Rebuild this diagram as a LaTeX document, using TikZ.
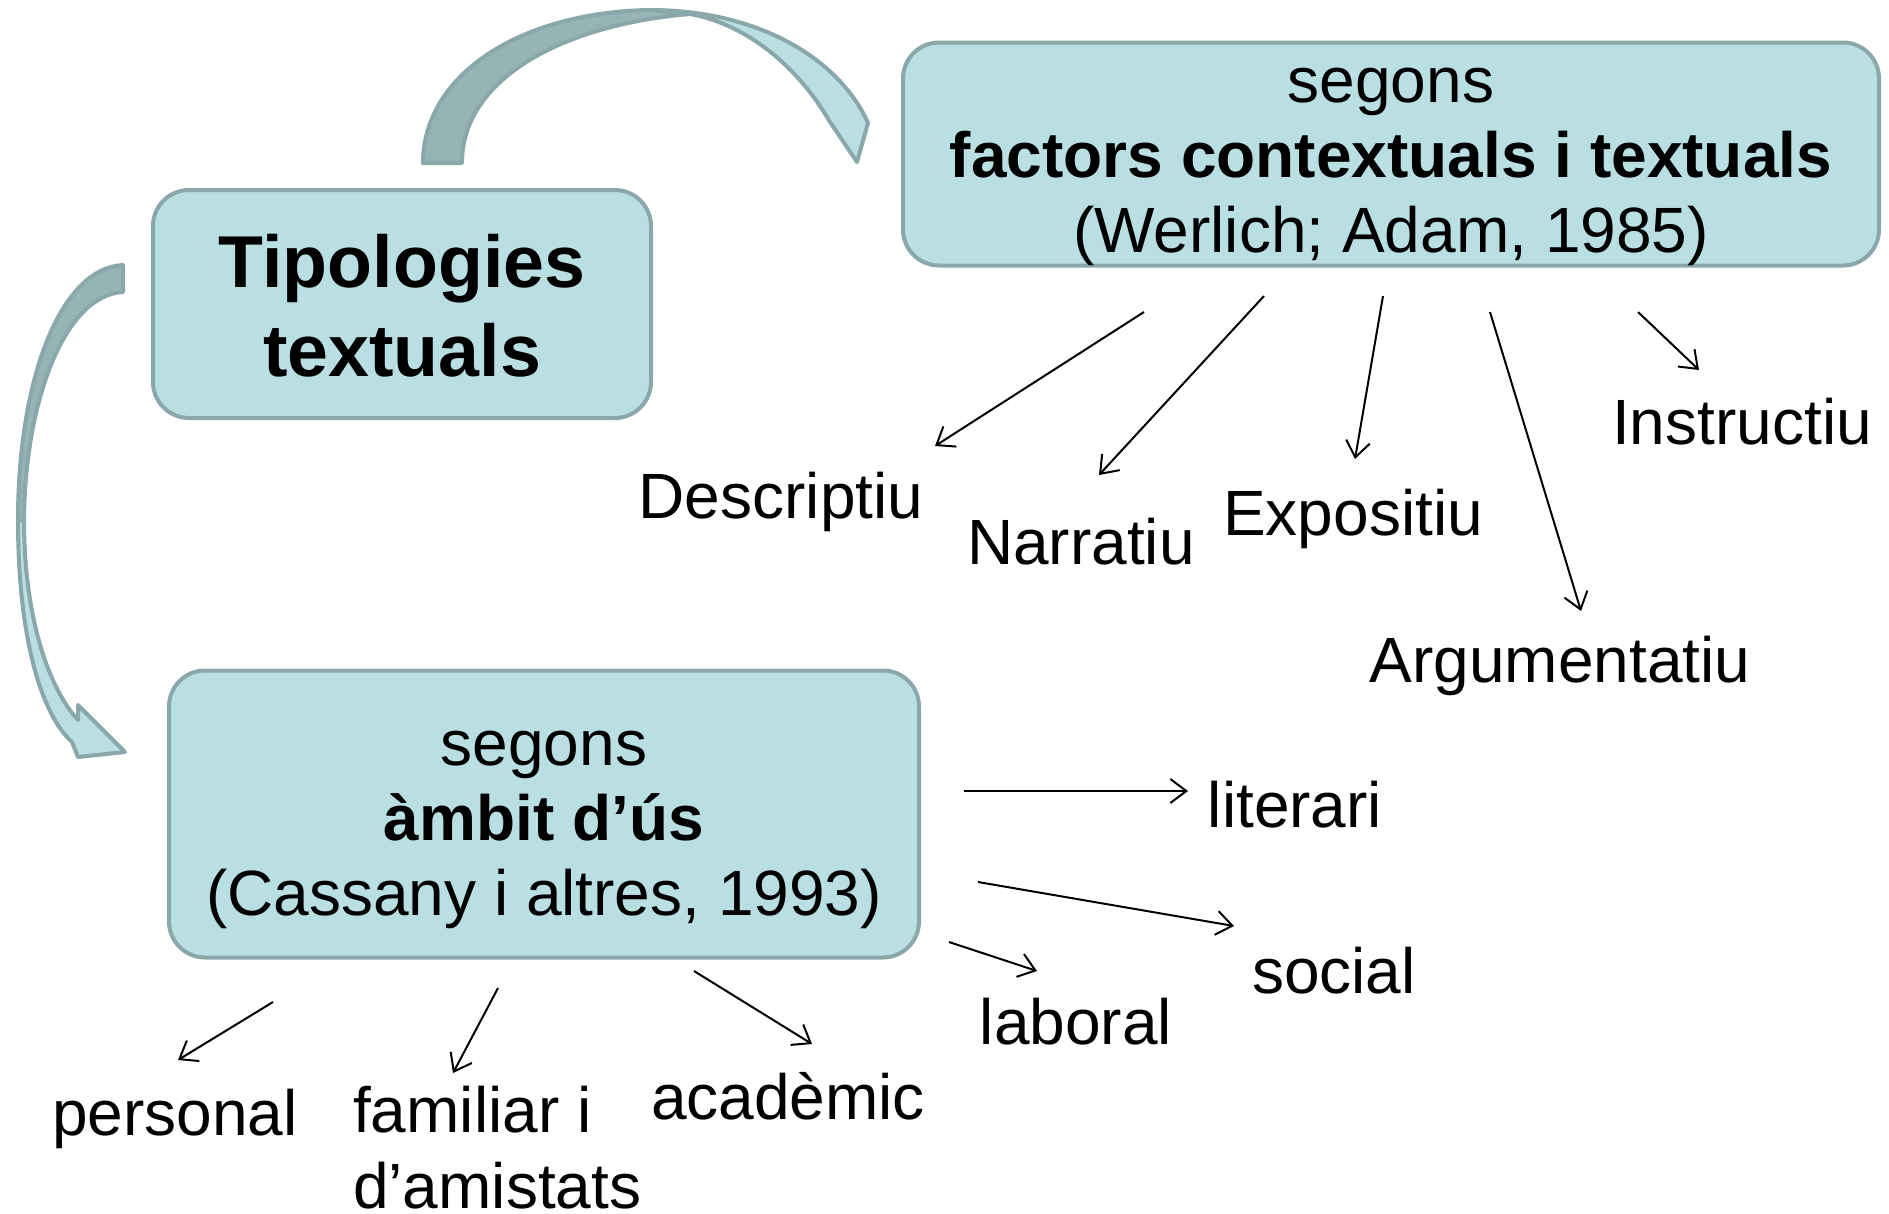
\documentclass[tikz,border=0pt]{standalone}
\usepackage{fontspec}
\setmainfont{Liberation Sans}
\usetikzlibrary{arrows.meta}
\definecolor{boxfill}{RGB}{185,223,227}
\definecolor{boxline}{RGB}{138,167,169}
\definecolor{bandback}{RGB}{150,180,182}

\begin{document}
\begin{tikzpicture}[x=1pt,y=-1pt,
  box/.style={draw=boxline, line width=4pt, fill=boxfill, rounded corners=36pt, inner sep=0pt},
  boxtext/.style={align=center, inner sep=0pt, font=\fontsize{64}{75}\selectfont},
  lbl/.style={inner sep=0pt, font=\fontsize{64}{76}\selectfont},
  ptr/.style={draw=black, line width=2pt,
              -{Straight Barb[length=16pt,width=24pt,line width=2pt]}},
  band/.style={draw=boxline, line width=4pt, line join=round}]

\useasboundingbox (0,0) rectangle (1889,1213);

% main boxes
\node[box, minimum width=498pt, minimum height=228pt] (tipo) at (402,304) {};
\node[boxtext, font=\bfseries\fontsize{73.5}{89}\selectfont] (tipotext) at (402,306) {Tipologies\\textuals};
\node[box, minimum width=976pt, minimum height=223pt] (factors) at (1391,154) {};
\node[boxtext] (factorstext) at (1391,167)
  {segons\\\textbf{factors contextuals i textuals}\\(Werlich; Adam, 1985)};
\node[box, minimum width=750pt, minimum height=287pt] (ambit) at (544,814) {};
\node[boxtext] (ambittext) at (544,830)
  {segons\\\textbf{àmbit d’ús}\\(Cassany i altres, 1993)};

% curved block arrow over the top
\filldraw[band, fill=boxfill] (650,10) .. controls (760,10) and (840,60) .. (868,123)
  -- (857,162) -- (830,122) .. controls (800,70) and (750,25) .. (690,14) -- cycle;
\filldraw[band, fill=bandback] (423,163) .. controls (423,75) and (520,12) .. (650,10)
  -- (690,14) .. controls (560,25) and (462,80) .. (462,163) -- cycle;

% curved block arrow down the left side
\filldraw[band, fill=boxfill] (18,520) .. controls (18,640) and (42,715) .. (72,742)
  -- (78,757) -- (125,752) -- (78,705) -- (78,720)
  .. controls (50,690) and (24,620) .. (24,520) -- cycle;
\filldraw[band, fill=bandback] (123,265) .. controls (60,268) and (18,380) .. (18,520)
  -- (24,520) .. controls (25,400) and (65,295) .. (123,292) -- cycle;

% text types
\node[lbl] (desc) at (781,502) {Descriptiu};
\node[lbl] (narr) at (1081,542) {Narratiu};
\node[lbl] (expo) at (1353,519) {Expositiu};
\node[lbl] (inst) at (1742,422) {Instructiu};
\node[lbl] (argu) at (1560,666) {Argumentatiu};

% fields of use
\node[lbl] (lit) at (1295,805) {literari};
\node[lbl] (soc) at (1334,971) {social};
\node[lbl] (lab) at (1076,1022) {laboral};
\node[lbl] (acad) at (788,1096) {acadèmic};
\node[lbl] (pers) at (175,1119) {personal};
\node[lbl, align=left, anchor=north west] (fam) at (353,1086) {familiar i\\d’amistats};

% pointer ends
\coordinate (d0) at (1144,312);  \coordinate (d1) at (935,446);
\coordinate (n0) at (1264,296);  \coordinate (n1) at (1099,475);
\coordinate (e0) at (1383,296);  \coordinate (e1) at (1355,459);
\coordinate (a0) at (1490,312);  \coordinate (a1) at (1581,611);
\coordinate (i0) at (1638,312);  \coordinate (i1) at (1699,370);
\coordinate (l0) at (964,791);   \coordinate (l1) at (1188,791);
\coordinate (s0) at (978,882);   \coordinate (s1) at (1234,926);
\coordinate (b0) at (949,942);   \coordinate (b1) at (1037,971);
\coordinate (c0) at (694,971);   \coordinate (c1) at (812,1044);
\coordinate (f0) at (498,988);   \coordinate (f1) at (453,1073);
\coordinate (p0) at (273,1002);  \coordinate (p1) at (178,1060);

\foreach \s/\t in {d0/d1,n0/n1,e0/e1,a0/a1,i0/i1,l0/l1,s0/s1,b0/b1,c0/c1,f0/f1,p0/p1}
  \draw[ptr] (\s) -- (\t);

\end{tikzpicture}
\end{document}
